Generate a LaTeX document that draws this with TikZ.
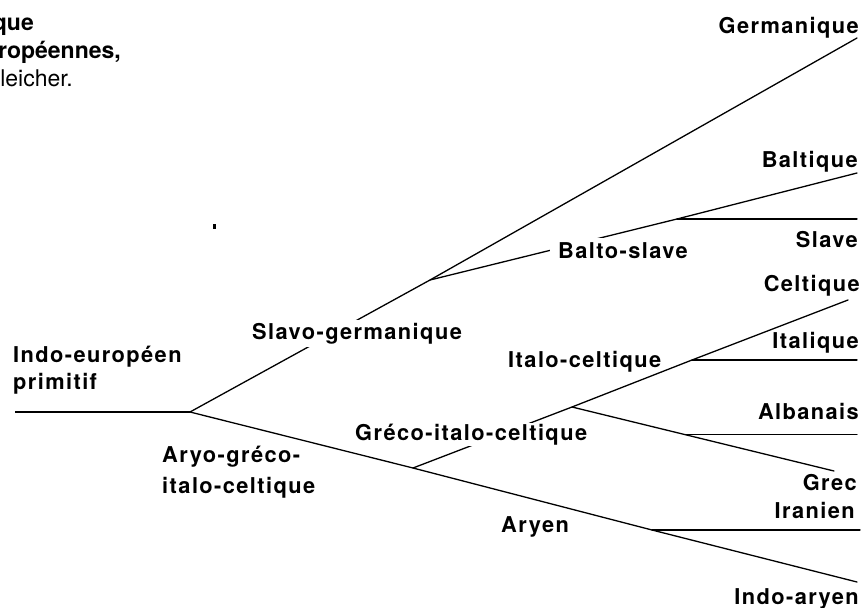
\documentclass[tikz,border=0pt]{standalone}
\usepackage{fontspec}
\setmainfont{TeX Gyre Heros}
\newfontfamily\labfont[LetterSpace=6.5]{TeX Gyre Heros}
\usetikzlibrary{calc}
\begin{document}
\begin{tikzpicture}[x=1pt,y=-1pt,
  br/.style={line width=1.3pt, line cap=round},
  rootline/.style={line width=2.2pt},
  lab/.style={font=\labfont\bfseries\fontsize{21.8pt}{26pt}\selectfont, inner sep=0pt},
  mask/.style={fill=white, inner xsep=3pt, inner ysep=3pt},
  captxt/.style={font=\fontsize{23pt}{27pt}\selectfont, inner sep=0pt},
  captbold/.style={font=\bfseries\fontsize{23pt}{27pt}\selectfont, inner sep=0pt}]
\useasboundingbox (0,0) rectangle (866,607);

% header (cut at the left edge)
\node[captbold, anchor=base east] (h1) at (34,31) {que};
\node[captbold, anchor=base east] (h2) at (121,59) {ropéennes,};
\node[captxt, anchor=base east] (h3) at (73,87) {leicher.};

% points of the tree
\coordinate (start) at (15,412);
\coordinate (root) at (190,412);
\coordinate (sg) at (430,280);
\coordinate (germ) at (857,38);
\coordinate (bs) at (677,219);
\coordinate (balt) at (857,173);
\coordinate (slav) at (857,219);
\coordinate (agic) at (413,468);
\coordinate (ary) at (652,530);
\coordinate (iran) at (860,530);
\coordinate (indar) at (857,582);
\coordinate (gic) at (572,407);
\coordinate (ic) at (692,360);
\coordinate (celt) at (848,300);
\coordinate (ital) at (857,360);
\coordinate (grec) at (834,471);
\coordinate (alb0) at ($(gic)!0.4313!(grec)$);
\coordinate (alb) at (alb0 -| ital);

% branches
\draw[rootline] (start) -- (root);
\draw[br] (root) -- (sg) -- (germ);
\draw[br] (sg) -- (bs) -- (balt);
\draw[br] (bs) -- (slav);
\draw[br] (root) -- (agic) -- (ary) -- (indar);
\draw[br] (ary) -- (iran);
\draw[br] (agic) -- (gic) -- (ic) -- (celt);
\draw[br] (ic) -- (ital);
\draw[br] (gic) -- (grec);
\draw[br] (alb0) -- (alb);

% small speck
\fill (213,224) rectangle (215.5,228.5);

% labels
\node[lab, anchor=base west] (lie1) at (13,362) {Indo-européen};
\node[lab, anchor=base west] (lie2) at (13,389) {primitif};
\node[lab, mask, anchor=base west] (lsg) at (249,339) {Slavo-germanique};
\node[lab, anchor=base west] (lag1) at (162,462) {Aryo-gréco-};
\node[lab, anchor=base west] (lag2) at (162,493) {italo-celtique};
\node[lab, fill=white, inner xsep=8pt, inner ysep=4pt, anchor=base west] (lbs) at (550,258) {Balto-slave};
\node[lab, fill=white, inner xsep=3pt, inner ysep=1pt, anchor=base west] (lgic) at (352,440) {Gréco-italo-celtique};
\node[lab, anchor=base west] (lic) at (508,367) {Italo-celtique};
\node[lab, anchor=base west] (lary) at (501,532) {Aryen};
\node[lab, anchor=base east] (lgerm) at (859,34) {Germanique};
\node[lab, anchor=base east] (lbalt) at (858,167) {Baltique};
\node[lab, anchor=base east] (lslav) at (858,247) {Slave};
\node[lab, anchor=base east] (lcelt) at (860,291) {Celtique};
\node[lab, anchor=base east] (lital) at (859,348) {Italique};
\node[lab, anchor=base east] (lalb) at (859,419) {Albanais};
\node[lab, anchor=base east] (lgrec) at (857,490) {Grec};
\node[lab, anchor=base east] (liran) at (855,518) {Iranien};
\node[lab, anchor=base east] (lindar) at (859,604) {Indo-aryen};
\end{tikzpicture}
\end{document}
